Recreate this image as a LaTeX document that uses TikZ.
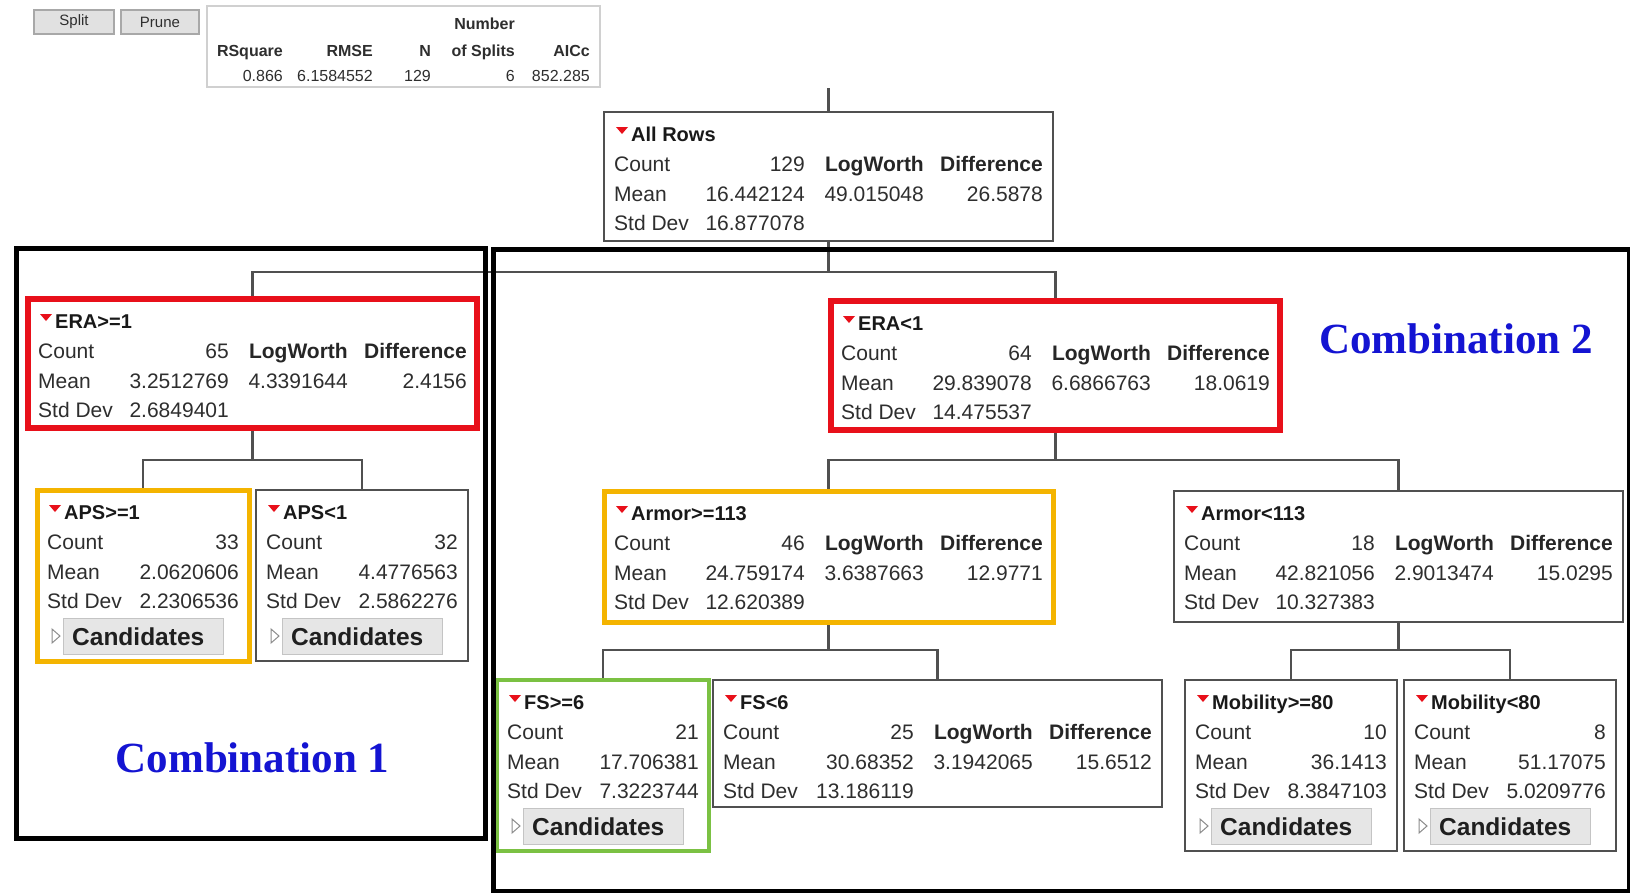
\documentclass[tikz,border=0pt]{standalone}
\usepackage{fontspec}
\setmainfont{Liberation Sans}
\newfontfamily\serifb{Liberation Serif}
\usetikzlibrary{calc}
\pgfdeclarelayer{bg}
\pgfsetlayers{bg,main}

\definecolor{jred}{HTML}{E8101A}
\definecolor{jorange}{HTML}{F4B400}
\definecolor{jgreen}{HTML}{7BC143}
\definecolor{jgray}{HTML}{505050}
\definecolor{jtext}{HTML}{2E2E2E}
\definecolor{jblue}{HTML}{1414D2}
\definecolor{btnfill}{HTML}{E6E6E6}
\definecolor{btnline}{HTML}{C4C4C4}
\definecolor{statline}{HTML}{D0D0D0}
\definecolor{tbfill}{HTML}{E1E1E1}
\definecolor{tbline}{HTML}{A8A8A8}

\tikzset{
  box/.style={draw=jgray, line width=2.2pt, fill=white, anchor=north west, inner sep=0pt, outer sep=0pt},
  widebox/.style={box, minimum width=449pt, minimum height=129pt},
  narrowbox/.style={box, minimum width=212pt, minimum height=171pt},
  redline/.style={draw=jred, line width=5.5pt},
  orangeline/.style={draw=jorange, line width=5pt},
  greenline/.style={draw=jgreen, line width=4.5pt},
  lbl/.style={anchor=base west, inner sep=0pt, text=jtext, font=\fontsize{21}{25}\selectfont},
  val/.style={anchor=base east, inner sep=0pt, text=jtext, font=\fontsize{21}{25}\selectfont},
  hdr/.style={anchor=base east, inner sep=0pt, text=black!85, font=\fontsize{21}{25}\selectfont\bfseries},
  ttl/.style={anchor=base west, inner sep=0pt, text=black!90, font=\fontsize{20}{24}\selectfont\bfseries},
  btn/.style={anchor=north west, minimum width=160pt, minimum height=36pt, inner sep=0pt, fill=btnfill, draw=btnline, line width=1pt},
  candtxt/.style={anchor=west, inner sep=0pt, text=black!88, font=\fontsize{24.5}{28}\selectfont\bfseries},
  conn/.style={draw=jgray, line width=2.2pt},
  frame/.style={draw=black, line width=5pt, anchor=north west, inner sep=0pt},
  combo/.style={anchor=base, inner sep=0pt, text=jblue, font=\serifb\bfseries\fontsize{43}{50}\selectfont},
  tbtn/.style={fill=tbfill, draw=tbline, line width=1.2pt, inner sep=0pt, text=jtext, font=\fontsize{15}{18}\selectfont},
  shdr/.style={anchor=base east, inner sep=0pt, text=jtext, font=\fontsize{16}{19}\selectfont\bfseries},
  sval/.style={anchor=base east, inner sep=0pt, text=jtext, font=\fontsize{16}{19}\selectfont},
}

\newcommand{\jtitle}[2]{%
  \fill[jred] ($(#1.north west)+(12,15)$) -- ++(12,0) -- ++(-6,7) -- cycle;
  \node[ttl] (#1-t) at ($(#1.north west)+(27,29)$) {#2};
}
\newcommand{\jrows}[5]{%
  \node[lbl] (#1-cl) at ($(#1.north west)+(10,59.5)$) {Count};
  \node[lbl] (#1-ml) at ($(#1.north west)+(10,89.5)$) {Mean};
  \node[lbl] (#1-sl) at ($(#1.north west)+(10,118.5)$) {Std Dev};
  \node[val] (#1-cv) at ($(#1.north west)+(#2,59.5)$) {#3};
  \node[val] (#1-mv) at ($(#1.north west)+(#2,89.5)$) {#4};
  \node[val] (#1-sv) at ($(#1.north west)+(#2,118.5)$) {#5};
}
\newcommand{\jlw}[3]{%
  \node[hdr] (#1-lh) at ($(#1.north west)+(320,59.5)$) {LogWorth};
  \node[hdr] (#1-dh) at ($(#1.north west)+(439,59.5)$) {Difference};
  \node[val] (#1-lv) at ($(#1.north west)+(320,89.5)$) {#2};
  \node[val] (#1-dv) at ($(#1.north west)+(439,89.5)$) {#3};
}
\newcommand{\jcand}[1]{%
  \node[btn] (#1-cb) at ($(#1.north west)+(26,128)$) {};
  \node[candtxt] (#1-ct) at ($(#1-cb.west)+(9,0)$) {Candidates};
  \draw[black!45, line width=1pt] ($(#1.north west)+(15,139)$) -- ++(8,7) -- ++(-8,7) -- cycle;
}

\begin{document}
\begin{tikzpicture}[x=1pt,y=-1pt]
\useasboundingbox (0,0) rectangle (1630,892);

% toolbar
\node[tbtn, minimum width=80pt, minimum height=24pt] (split) at (74,22) {Split};
\node[tbtn, minimum width=78pt, minimum height=24pt] (prune) at (160,22) {Prune};

% stats box
\node[draw=statline, line width=1.5pt, fill=white, anchor=north west, minimum width=393pt, minimum height=81pt, inner sep=0pt] (stats) at (206,5) {};
\node[shdr] (st-num) at (515,29) {Number};
\node[shdr] (st-h1) at (283,56) {RSquare};
\node[shdr] (st-h2) at (373,56) {RMSE};
\node[shdr] (st-h3) at (431,56) {N};
\node[shdr] (st-h4) at (515,56) {of Splits};
\node[shdr] (st-h5) at (590,56) {AICc};
\node[sval] (st-v1) at (283,81) {0.866};
\node[sval] (st-v2) at (373,81) {6.1584552};
\node[sval] (st-v3) at (431,81) {129};
\node[sval] (st-v4) at (515,81) {6};
\node[sval] (st-v5) at (590,81) {852.285};

% tree boxes
\node[widebox] (allrows) at (604,112) {};
\jtitle{allrows}{All Rows}
\jrows{allrows}{201}{129}{16.442124}{16.877078}
\jlw{allrows}{49.015048}{26.5878}

\node[widebox, redline] (eraGE) at (28,299) {};
\jtitle{eraGE}{ERA>=1}
\jrows{eraGE}{201}{65}{3.2512769}{2.6849401}
\jlw{eraGE}{4.3391644}{2.4156}

\node[widebox, redline] (eraLT) at (831,301) {};
\jtitle{eraLT}{ERA<1}
\jrows{eraLT}{201}{64}{29.839078}{14.475537}
\jlw{eraLT}{6.6866763}{18.0619}

\node[narrowbox, orangeline] (apsGE) at (37,490) {};
\jtitle{apsGE}{APS>=1}
\jrows{apsGE}{202}{33}{2.0620606}{2.2306536}
\jcand{apsGE}

\node[narrowbox] (apsLT) at (256,490) {};
\jtitle{apsLT}{APS<1}
\jrows{apsLT}{202}{32}{4.4776563}{2.5862276}
\jcand{apsLT}

\node[widebox, orangeline, minimum height=131pt] (armGE) at (604,491) {};
\jtitle{armGE}{Armor>=113}
\jrows{armGE}{201}{46}{24.759174}{12.620389}
\jlw{armGE}{3.6387663}{12.9771}

\node[widebox, minimum height=131pt] (armLT) at (1174,491) {};
\jtitle{armLT}{Armor<113}
\jrows{armLT}{201}{18}{42.821056}{10.327383}
\jlw{armLT}{2.9013474}{15.0295}

\node[narrowbox, greenline] (fsGE) at (497,680) {};
\jtitle{fsGE}{FS>=6}
\jrows{fsGE}{202}{21}{17.706381}{7.3223744}
\jcand{fsGE}

\node[widebox, minimum height=127pt] (fsLT) at (713,680) {};
\jtitle{fsLT}{FS<6}
\jrows{fsLT}{201}{25}{30.68352}{13.186119}
\jlw{fsLT}{3.1942065}{15.6512}

\node[narrowbox] (mobGE) at (1185,680) {};
\jtitle{mobGE}{Mobility>=80}
\jrows{mobGE}{202}{10}{36.1413}{8.3847103}
\jcand{mobGE}

\node[narrowbox] (mobLT) at (1404,680) {};
\jtitle{mobLT}{Mobility<80}
\jrows{mobLT}{202}{8}{51.17075}{5.0209776}
\jcand{mobLT}

% connectors (behind the boxes)
\coordinate (rootin) at (828.5,88);
\begin{pgfonlayer}{bg}
\fill[white] (0,0) rectangle (1630,892);
\draw[conn] (rootin) -- (allrows.north);
\draw[conn] (allrows.south) -- ++(0,31) -| (eraGE.north);
\draw[conn] (allrows.south) -- ++(0,31) -| (eraLT.north);
\draw[conn] (eraGE.south) -- ++(0,32) -| (apsGE.north);
\draw[conn] (eraGE.south) -- ++(0,32) -| (apsLT.north);
\draw[conn] (eraLT.south) -- ++(0,30) -| (armGE.north);
\draw[conn] (eraLT.south) -- ++(0,30) -| (armLT.north);
\draw[conn] (armGE.south) -- ++(0,28) -| (fsGE.north);
\draw[conn] (armGE.south) -- ++(0,28) -| (fsLT.north);
\draw[conn] (armLT.south) -- ++(0,28) -| (mobGE.north);
\draw[conn] (armLT.south) -- ++(0,28) -| (mobLT.north);
\end{pgfonlayer}

% combination frames
\node[frame, minimum width=469pt, minimum height=590pt] (comb1) at (14,246) {};
\node[frame, minimum width=1136pt, minimum height=642pt] (comb2) at (491,247) {};
\node[combo] (comb1-lbl) at (252.5,772) {Combination 1};
\node[combo] (comb2-lbl) at (1456,353) {Combination 2};
\end{tikzpicture}
\end{document}
